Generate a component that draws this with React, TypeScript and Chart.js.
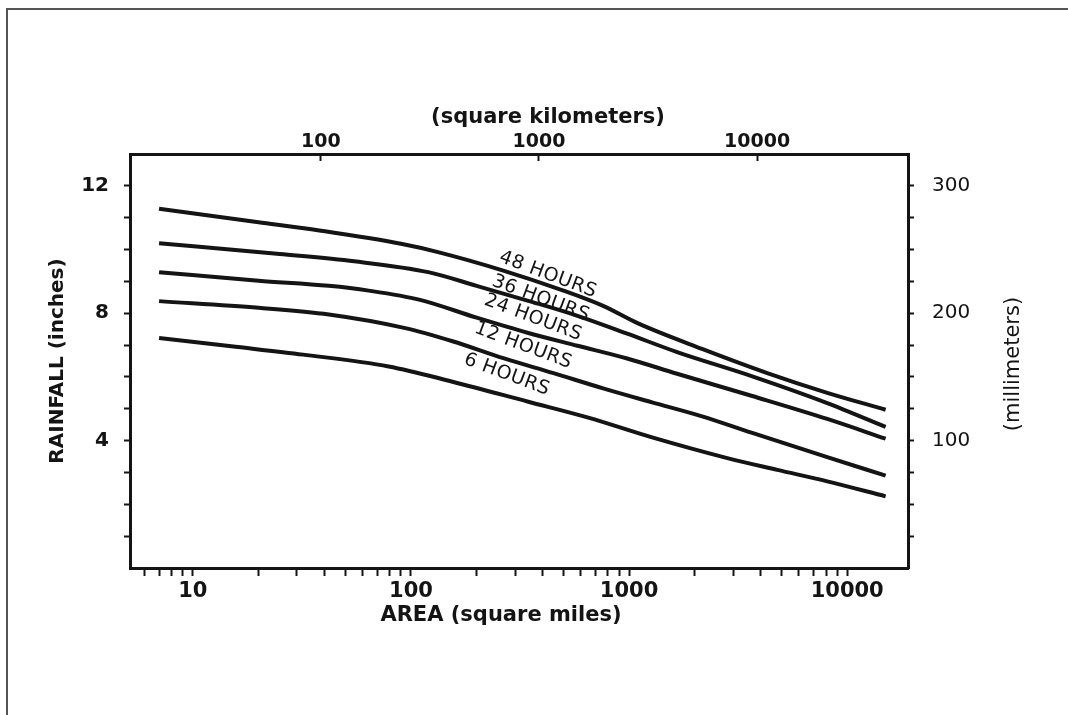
import React, { useEffect, useRef } from 'react';
import { Chart, registerables } from 'chart.js';

Chart.register(...registerables);

// ---- Data (area in square miles, rainfall in inches) ----
const AREA_48H = [7, 20, 38, 90, 133, 265, 500, 760, 1100, 2160, 4300, 8100, 15000];
const RAIN_48H = [11.28, 10.86, 10.6, 10.18, 9.92, 9.34, 8.71, 8.23, 7.68, 6.88, 6.12, 5.5, 4.97];

const AREA_36H = [7, 25, 55, 120, 200, 345, 580, 980, 1660, 3670, 8100, 15000];
const RAIN_36H = [10.2, 9.86, 9.63, 9.29, 8.86, 8.39, 7.92, 7.36, 6.78, 6.02, 5.18, 4.43];

const AREA_24H = [7, 20, 42, 64, 110, 200, 345, 580, 980, 1660, 3670, 8100, 15000];
const RAIN_24H = [9.29, 9.02, 8.86, 8.71, 8.42, 7.86, 7.38, 6.98, 6.58, 6.1, 5.4, 4.68, 4.06];

const AREA_12H = [7, 20, 42, 93, 155, 265, 450, 760, 1275, 2160, 3670, 8100, 15000];
const RAIN_12H = [8.38, 8.17, 7.96, 7.54, 7.12, 6.59, 6.12, 5.64, 5.2, 4.76, 4.24, 3.48, 2.9];

const AREA_6H = [7, 15, 32, 79, 155, 345, 650, 1275, 2820, 4780, 8100, 15000];
const RAIN_6H = [7.22, 6.96, 6.7, 6.33, 5.85, 5.22, 4.72, 4.1, 3.45, 3.08, 2.72, 2.25];

const SERIES_NAMES = ['48 HOURS', '36 HOURS', '24 HOURS', '12 HOURS', '6 HOURS'];

// Curve label anchors (area sq mi, rainfall in)
const LABEL_AREA = [425, 394, 363, 327, 275];
const LABEL_RAIN = [9.21, 8.46, 7.86, 6.98, 6.07];

// Axis ticks
const MILES_TICKS = [6, 7, 8, 9, 10, 20, 30, 40, 50, 60, 70, 80, 90, 100, 200, 300, 400, 500, 600, 700, 800, 900, 1000, 2000, 3000, 4000, 5000, 6000, 7000, 8000, 9000, 10000];
const MILES_LABELS = [10, 100, 1000, 10000];
const KM_TICKS = [100, 1000, 10000];
const INCH_TICKS = [1, 2, 3, 4, 5, 6, 7, 8, 9, 10, 11, 12];
const INCH_LABELS = [4, 8, 12];
const MM_TICKS = [25, 50, 75, 100, 125, 150, 175, 200, 225, 250, 275, 300];
const MM_LABELS = [100, 200, 300];

const AREA_MIN = 5.15;
const AREA_MAX = 19000;
const KM_PER_MI2 = 2.59;
const RAIN_MAX = 13;
const MM_PER_INCH_SCALE = 25;

const INK = '#141414';
const FONT = '"DejaVu Sans", "Liberation Sans", Arial, sans-serif';

const toPoints = (xs: number[], ys: number[]) => xs.map((x, i) => ({ x, y: ys[i] }));

const curveLabels = {
  id: 'curveLabels',
  afterDatasetsDraw(chart: any) {
    const { ctx } = chart;
    const xs = chart.scales.x;
    const ys = chart.scales.y;
    ctx.save();
    ctx.font = `19px ${FONT}`;
    ctx.fillStyle = INK;
    ctx.textAlign = 'center';
    ctx.textBaseline = 'middle';
    try { (ctx as any).letterSpacing = '0.5px'; } catch (e) {}
    SERIES_NAMES.forEach((name, i) => {
      const px = xs.getPixelForValue(LABEL_AREA[i]);
      const py = ys.getPixelForValue(LABEL_RAIN[i]);
      ctx.save();
      ctx.translate(px, py);
      ctx.rotate((20.5 * Math.PI) / 180);
      ctx.fillText(name, 0, 0);
      ctx.restore();
    });
    ctx.restore();
  },
};

const axisTitles = {
  id: 'axisTitles',
  afterDraw(chart: any) {
    const { ctx, chartArea: a } = chart;
    ctx.save();
    ctx.fillStyle = INK;
    ctx.textAlign = 'center';
    ctx.textBaseline = 'middle';
    ctx.font = `bold 21px ${FONT}`;
    ctx.fillText('(square kilometers)', a.left + 418, a.top - 36);
    ctx.fillText('AREA (square miles)', a.left + 371, a.bottom + 48);
    ctx.save();
    ctx.font = `bold 20px ${FONT}`;
    ctx.translate(a.left - 72, (a.top + a.bottom) / 2);
    ctx.rotate(-Math.PI / 2);
    ctx.fillText('RAINFALL (inches)', 0, 0);
    ctx.restore();
    ctx.save();
    ctx.font = `21px ${FONT}`;
    ctx.translate(a.right + 106, (a.top + a.bottom) / 2 + 3);
    ctx.rotate(-Math.PI / 2);
    ctx.fillText('(millimeters)', 0, 0);
    ctx.restore();
    ctx.restore();
  },
};

const tickGrid = (len: number) => ({
  display: true,
  drawOnChartArea: false,
  drawTicks: true,
  tickLength: len,
  tickWidth: 2,
  tickColor: INK,
});
const axisBorder = { display: true, color: INK, width: 3 };

export default function App() {
  const canvasRef = useRef<HTMLCanvasElement | null>(null);

  useEffect(() => {
    const canvas = canvasRef.current;
    if (!canvas) return;
    const datasets = [
      toPoints(AREA_48H, RAIN_48H),
      toPoints(AREA_36H, RAIN_36H),
      toPoints(AREA_24H, RAIN_24H),
      toPoints(AREA_12H, RAIN_12H),
      toPoints(AREA_6H, RAIN_6H),
    ].map((data, i) => ({
      label: SERIES_NAMES[i],
      data,
      borderColor: INK,
      borderWidth: 4,
      pointRadius: 0,
      fill: false,
      tension: 0.4,
      cubicInterpolationMode: 'monotone' as const,
      xAxisID: 'x',
      yAxisID: 'y',
    }));

    const chart = new Chart(canvas, {
      type: 'line',
      data: { datasets },
      options: {
        animation: false,
        responsive: false,
        devicePixelRatio: 1,
        layout: { padding: 0 },
        plugins: { legend: { display: false }, tooltip: { enabled: false } },
        scales: {
          x: {
            type: 'logarithmic',
            position: 'bottom',
            min: AREA_MIN,
            max: AREA_MAX,
            afterBuildTicks: (s: any) => { s.ticks = MILES_TICKS.map((v) => ({ value: v })); },
            afterFit: (s: any) => { s.height = 147; },
            grid: tickGrid(8),
            border: axisBorder,
            ticks: {
              autoSkip: false,
              maxRotation: 0,
              padding: 3,
              color: INK,
              font: { family: FONT, size: 21, weight: 'bold' },
              callback: (v: any) => (MILES_LABELS.includes(Number(v)) ? String(v) : ''),
            },
          },
          x2: {
            type: 'logarithmic',
            position: 'top',
            min: AREA_MIN * KM_PER_MI2,
            max: AREA_MAX * KM_PER_MI2,
            afterBuildTicks: (s: any) => { s.ticks = KM_TICKS.map((v) => ({ value: v })); },
            afterFit: (s: any) => { s.height = 154; },
            grid: tickGrid(-7),
            border: axisBorder,
            ticks: {
              autoSkip: false,
              maxRotation: 0,
              padding: 8,
              color: INK,
              font: { family: FONT, size: 19, weight: 'bold' },
              callback: (v: any) => String(v),
            },
          },
          y: {
            type: 'linear',
            position: 'left',
            min: 0,
            max: RAIN_MAX,
            afterBuildTicks: (s: any) => { s.ticks = INCH_TICKS.map((v) => ({ value: v })); },
            afterFit: (s: any) => { s.width = 130; },
            grid: tickGrid(6),
            border: axisBorder,
            ticks: {
              autoSkip: false,
              padding: 15,
              color: INK,
              font: { family: FONT, size: 20, weight: 'bold' },
              callback: (v: any) => (INCH_LABELS.includes(Number(v)) ? String(v) : ''),
            },
          },
          y2: {
            type: 'linear',
            position: 'right',
            min: 0,
            max: RAIN_MAX * MM_PER_INCH_SCALE,
            afterBuildTicks: (s: any) => { s.ticks = MM_TICKS.map((v) => ({ value: v })); },
            afterFit: (s: any) => { s.width = 160; },
            grid: tickGrid(6),
            border: axisBorder,
            ticks: {
              autoSkip: false,
              padding: 18,
              color: INK,
              font: { family: FONT, size: 20 },
              callback: (v: any) => (MM_LABELS.includes(Number(v)) ? String(v) : ''),
            },
          },
        },
      },
      plugins: [curveLabels, axisTitles],
    });
    return () => chart.destroy();
  }, []);

  return (
    <div style={{ position: 'fixed', left: 0, top: 0, width: 1068, height: 715, background: '#fff' }}>
      <canvas ref={canvasRef} width={1068} height={715} style={{ position: 'absolute', left: 0, top: 0, display: 'block' }} />
      <div
        style={{
          position: 'absolute',
          left: 6,
          top: 8,
          right: 0,
          bottom: 0,
          borderTop: '2px solid #555',
          borderLeft: '2px solid #555',
          pointerEvents: 'none',
        }}
      />
    </div>
  );
}
